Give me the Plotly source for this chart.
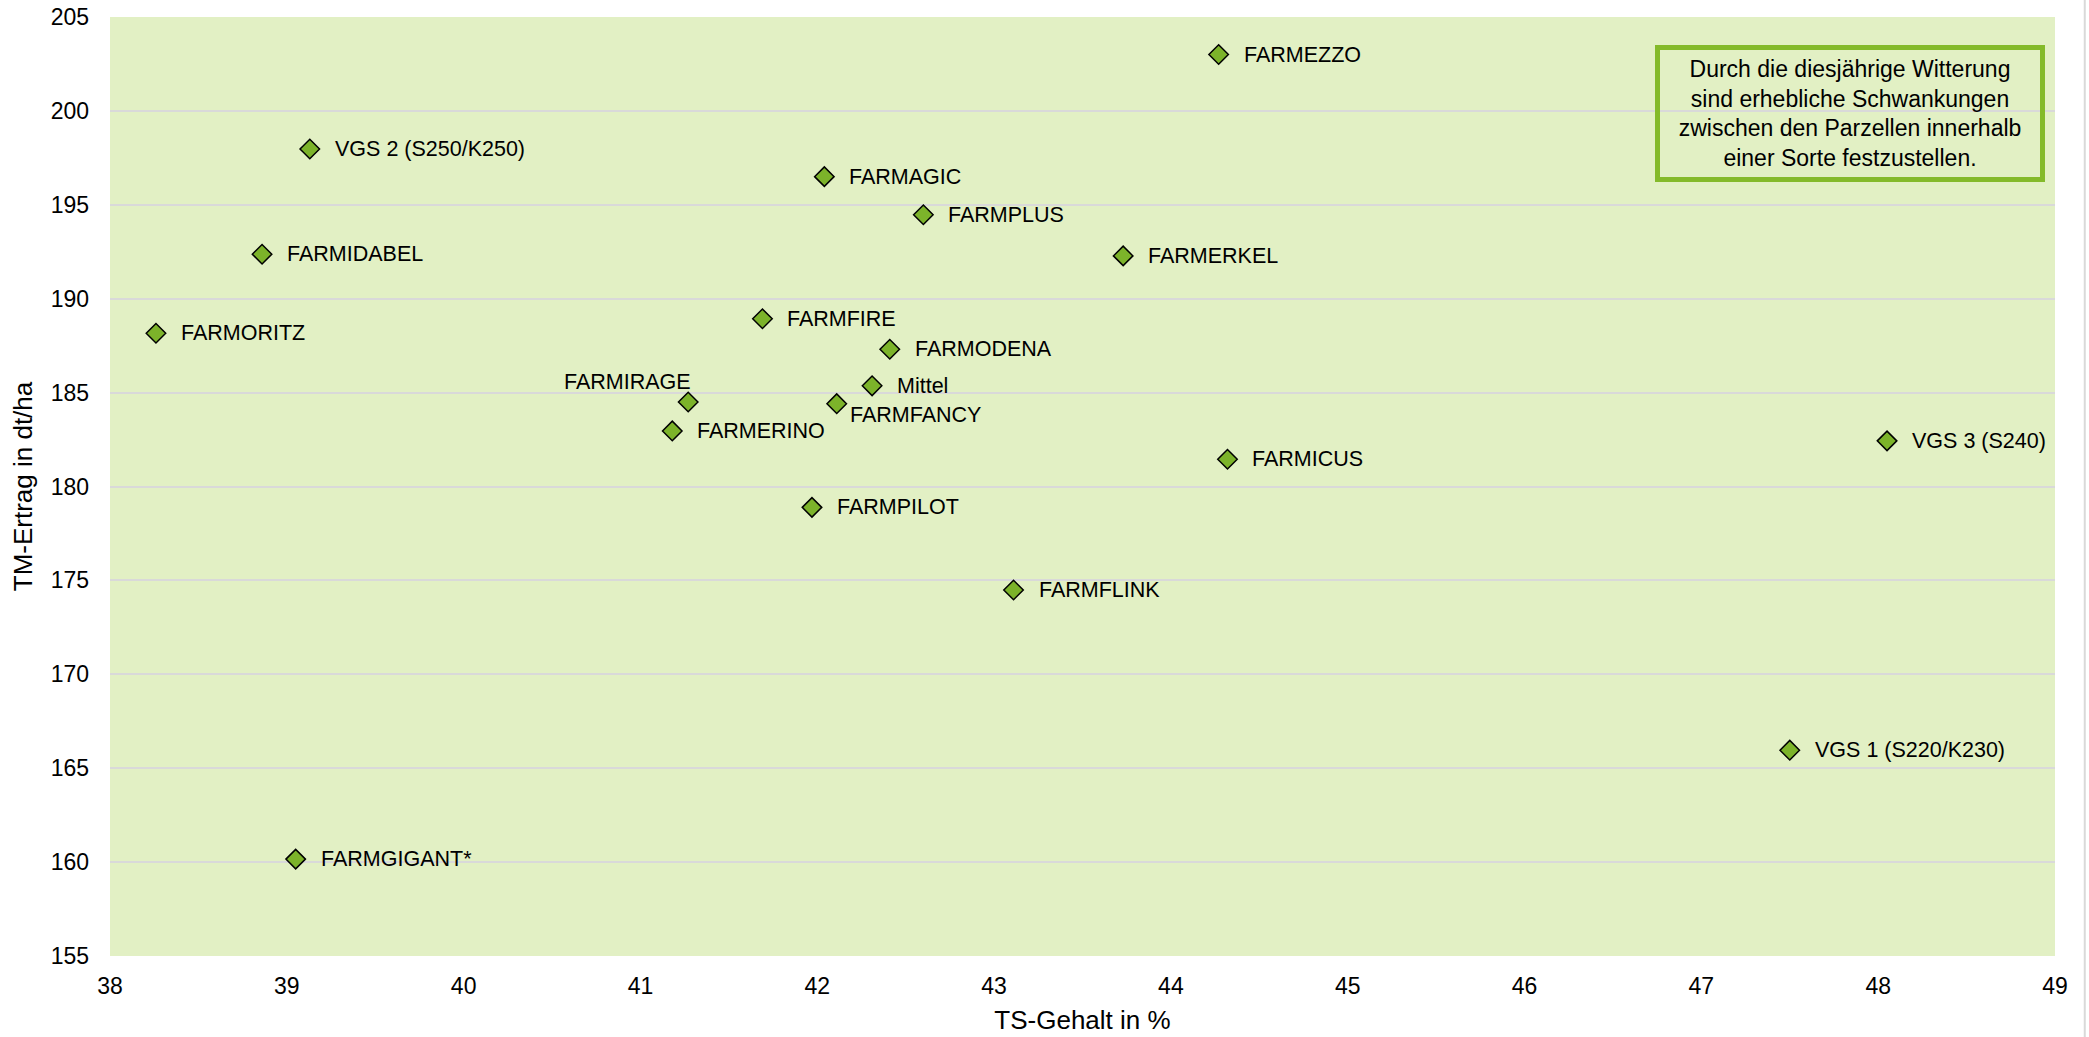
import plotly.graph_objects as go

# ---- data ----
sorten = ["FARMEZZO", "VGS 2 (S250/K250)", "FARMAGIC", "FARMPLUS", "FARMIDABEL",
          "FARMERKEL", "FARMORITZ", "FARMFIRE", "FARMODENA", "FARMIRAGE", "Mittel",
          "FARMFANCY", "FARMERINO", "FARMICUS", "VGS 3 (S240)", "FARMPILOT",
          "FARMFLINK", "VGS 1 (S220/K230)", "FARMGIGANT*"]
ts_gehalt = [44.27, 39.13, 42.04, 42.60, 38.86,
             43.73, 38.26, 41.69, 42.41, 41.27, 42.31,
             42.11, 41.18, 44.32, 48.05, 41.97,
             43.11, 47.50, 39.05]
tm_ertrag = [203.0, 197.97, 196.5, 194.47, 192.37,
             192.28, 188.16, 188.93, 187.31, 184.50, 185.36,
             184.41, 182.96, 181.45, 182.43, 178.89,
             174.49, 165.96, 160.16]

x_ticks = list(range(38, 50))
y_ticks = list(range(155, 206, 5))

x_title = "TS-Gehalt in %"
y_title = "TM-Ertrag in dt/ha"
note = "Durch die diesjährige Witterung<br>sind erhebliche Schwankungen<br>zwischen den Parzellen innerhalb<br>einer Sorte festzustellen."

# ---- styles ----
FONT = "Liberation Sans, Arial, sans-serif"
BG = "#E2F0C4"
MARKER = "#7CB32A"
BOX = "#84BA2A"
GRID = "#D9D9D9"

# label placement overrides (style only)
label_style = {
    "FARMIRAGE": dict(xanchor="right", xshift=5, yshift=20),
    "FARMFANCY": dict(xanchor="left", xshift=11, yshift=-11),
}

fig = go.Figure()
fig.add_trace(go.Scatter(
    x=ts_gehalt, y=tm_ertrag, mode="markers",
    marker=dict(symbol="diamond", size=15, color=MARKER,
                line=dict(color="#000000", width=1.5)),
    hoverinfo="text", text=sorten, showlegend=False,
))

for name, xv, yv in zip(sorten, ts_gehalt, tm_ertrag):
    st = dict(xanchor="left", xshift=23, yshift=0)
    st.update(label_style.get(name, {}))
    fig.add_annotation(x=xv, y=yv, xref="x", yref="y", text=name, showarrow=False,
                       yanchor="middle", font=dict(family=FONT, size=21.5, color="#000000"),
                       **st)

fig.add_annotation(
    x=0.8947, y=0.8971, xref="paper", yref="paper", text=note, showarrow=False,
    xanchor="center", yanchor="middle", align="center",
    font=dict(family=FONT, size=23, color="#000000"),
    bordercolor=BOX, borderwidth=5, borderpad=4, bgcolor="rgba(0,0,0,0)",
    width=372, height=119,
)

# chart outer border line on the right
fig.add_shape(type="line", xref="paper", yref="paper", x0=1.0153, x1=1.0153,
              y0=-0.09, y1=1.02, line=dict(color=GRID, width=2))

fig.update_layout(
    width=2089, height=1037,
    margin=dict(l=110, r=34, t=17, b=81, autoexpand=False),
    paper_bgcolor="#FFFFFF", plot_bgcolor=BG,
    font=dict(family=FONT, color="#000000"),
)
fig.update_xaxes(
    range=[38, 49], tickvals=x_ticks, ticktext=[str(v) for v in x_ticks],
    showgrid=False, zeroline=False, showline=False, ticks="",
    tickfont=dict(family=FONT, size=23, color="#000000"),
    ticklabelstandoff=14,
    title=dict(text=x_title, font=dict(family=FONT, size=26, color="#000000"), standoff=12),
)
fig.update_yaxes(
    range=[155, 205], tickvals=y_ticks, ticktext=[str(v) for v in y_ticks],
    showgrid=True, gridcolor=GRID, gridwidth=2, zeroline=False, showline=False, ticks="",
    tickfont=dict(family=FONT, size=23, color="#000000"),
    ticklabelstandoff=20,
    title=dict(text=y_title, font=dict(family=FONT, size=26, color="#000000"), standoff=10),
)

fig.write_html("out.html", config={"displayModeBar": False},
               post_script="document.body.style.margin='0';document.body.style.overflow='hidden';")
